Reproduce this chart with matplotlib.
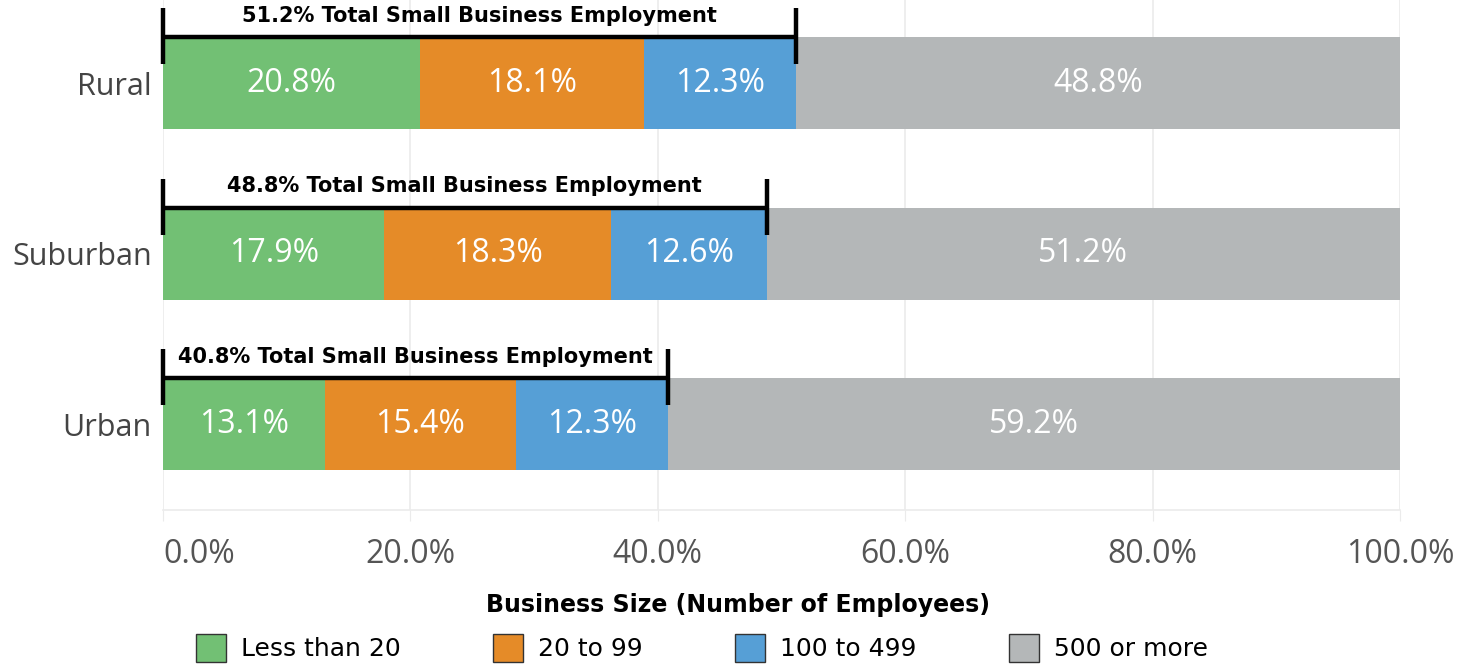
import matplotlib
matplotlib.use("Agg")
import matplotlib.pyplot as plt
from matplotlib.patches import Patch
import numpy as np

categories = ["Urban", "Suburban", "Rural"]
series = ["Less than 20", "20 to 99", "100 to 499", "500 or more"]
values = {
    "Less than 20": [13.1, 17.9, 20.8],
    "20 to 99":     [15.4, 18.3, 18.1],
    "100 to 499":   [12.3, 12.6, 12.3],
    "500 or more":  [59.2, 51.2, 48.8],
}
small_total = [40.8, 48.8, 51.2]
xticks = [0, 20, 40, 60, 80, 100]

COLORS = ["#72C074", "#E58B28", "#569FD6", "#B4B7B8"]
TXT = "#444444"
GRID = "#EBEBEB"

plt.rcParams["font.family"] = ["Open Sans", "DejaVu Sans"]

fig = plt.figure(figsize=(14.79, 6.64), dpi=100)
ax = fig.add_axes([163 / 1479, 1 - 510 / 664, (1400 - 163) / 1479, 510 / 664])

y = np.arange(len(categories))
h = 0.54
left = np.zeros(len(categories))
for name, col in zip(series, COLORS):
    vals = np.array(values[name])
    ax.barh(y, vals, left=left, height=h, color=col, zorder=2)
    for yi, l, v in zip(y, left, vals):
        ax.text(l + v / 2, yi, f"{v:.1f}%", ha="center", va="center",
                color="white", fontsize=23, zorder=3)
    left += vals

# bracket over small-business share
for yi, tot in zip(y, small_total):
    top = yi + h / 2
    ax.plot([0, tot], [top, top], color="black", lw=3.2, zorder=4,
            solid_capstyle="butt", clip_on=False)
    for xe in (0, tot):
        ax.plot([xe, xe], [top - 0.16, top + 0.17], color="black", lw=3.2,
                zorder=4, solid_capstyle="butt", clip_on=False)
    ax.text(tot / 2, top + 0.125, f"{tot:.1f}% Total Small Business Employment",
            ha="center", va="center", fontsize=15, fontweight="bold",
            color="black", zorder=4, family=["DejaVu Sans"])

ax.set_xlim(0, 100)
ax.set_ylim(-0.504, 2.487)
ax.set_yticks(y)
ax.set_yticklabels(categories, fontsize=22, color=TXT)
ax.set_xticks(xticks)
labels = ax.set_xticklabels([f"{t:.1f}%" for t in xticks], fontsize=23,
                            color="#555555")
labels[0].set_ha("left")
ax.tick_params(axis="y", length=0, pad=8)
ax.tick_params(axis="x", length=8, color=GRID, pad=12)
ax.grid(axis="x", color=GRID, lw=1.2, zorder=0)
ax.set_axisbelow(True)
for s in ["top", "right", "left"]:
    ax.spines[s].set_visible(False)
ax.spines["bottom"].set_color(GRID)
ax.spines["bottom"].set_linewidth(1.2)

fig.text(738 / 1479, 1 - 605 / 664, "Business Size (Number of Employees)",
         ha="center", va="center", fontsize=17, fontweight="bold",
         family=["DejaVu Sans"])
handles = [Patch(facecolor=c, edgecolor="#333333", lw=1) for c in COLORS]
fig.legend(handles, series, loc="center", bbox_to_anchor=(702 / 1479, 1 - 648 / 664),
           ncol=4, frameon=False, handlelength=1.2, handleheight=1.4,
           columnspacing=3.7, handletextpad=0.6, borderpad=0,
           prop={"family": ["DejaVu Sans"], "size": 18})

fig.savefig("out.png", dpi=100, facecolor="white")
